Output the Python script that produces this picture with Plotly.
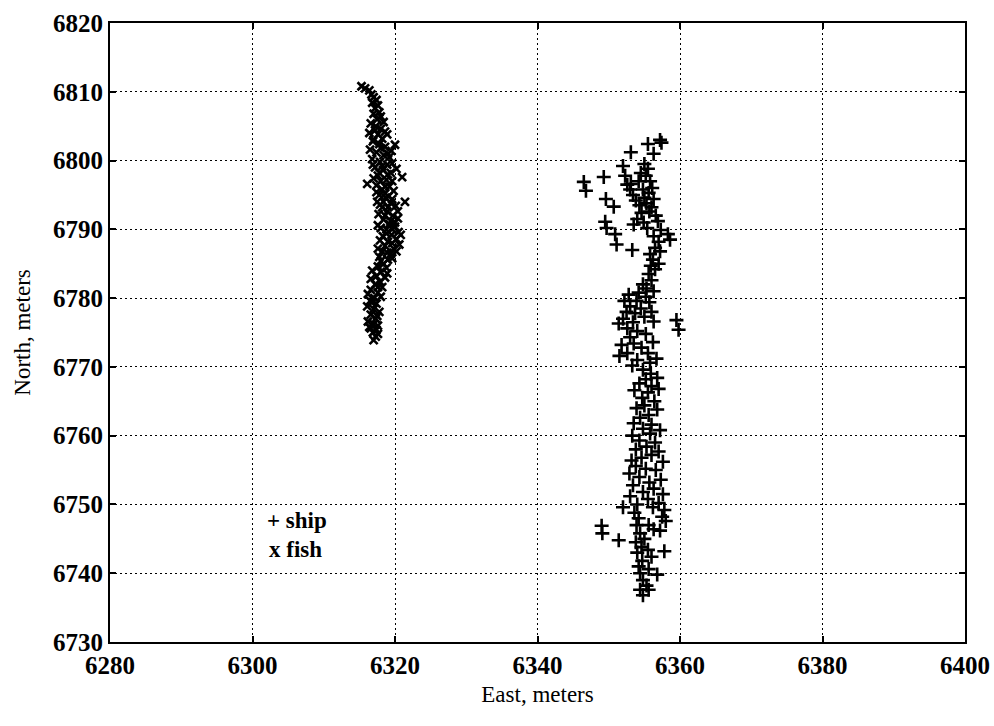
import plotly.graph_objects as go

# Ship positions (East, North), meters
ship_east = [
    6357.2, 6357.4, 6355.5, 6356.3, 6353.1,
    6346.5, 6346.8, 6349.3, 6349.6, 6350.7, 6349.5, 6349.7, 6350.9, 6351.1, 6353.3,
    6352.0, 6352.3, 6352.6, 6353.0, 6353.4, 6353.8, 6354.3, 6354.6, 6354.0, 6353.5,
    6355.0, 6355.5, 6355.2, 6355.8, 6356.1, 6355.6, 6356.3, 6356.0, 6356.6, 6356.9,
    6354.5, 6354.2, 6353.1, 6354.8, 6355.0, 6355.3, 6355.7, 6354.9, 6355.4, 6357.3,
    6356.3, 6357.0, 6356.5, 6355.8, 6357.2, 6358.3, 6358.6, 6356.2, 6355.9, 6357.0,
    6356.5, 6355.6, 6356.0, 6354.8, 6355.3, 6354.2, 6356.3, 6355.2, 6353.9, 6355.7,
    6352.8, 6352.2, 6353.0, 6352.5, 6353.7, 6352.0, 6351.4, 6352.6, 6353.4, 6354.5,
    6355.0, 6356.0, 6356.3, 6359.5, 6359.8, 6354.0, 6355.2, 6353.0, 6351.8, 6352.6,
    6351.5, 6353.5, 6354.6, 6356.2, 6355.5, 6354.0, 6355.8, 6356.7, 6353.3, 6354.8,
    6355.9, 6356.8, 6355.2, 6354.3, 6356.0, 6357.0, 6355.5, 6353.6, 6354.7, 6356.4,
    6355.0, 6353.9, 6356.8, 6355.6, 6354.4, 6353.5, 6356.0, 6354.8, 6355.8, 6357.2,
    6353.3, 6354.3, 6356.5, 6355.3, 6353.8, 6357.0, 6356.0, 6354.6, 6353.2, 6357.6,
    6353.8, 6355.2, 6356.6, 6352.9, 6354.3, 6357.3, 6355.7, 6353.4, 6356.3, 6354.8,
    6357.6, 6353.0, 6355.5, 6357.0, 6354.0, 6356.2, 6357.8, 6352.0, 6357.5, 6358.0,
    6349.0, 6349.1, 6351.4, 6353.6, 6354.2, 6353.9, 6355.6, 6356.3, 6357.2, 6354.4,
    6355.0, 6353.8, 6354.6, 6355.5, 6357.8, 6354.0, 6356.0, 6354.7, 6354.2, 6355.6,
    6354.4, 6356.8, 6354.8, 6355.3, 6354.4, 6354.8, 6355.6,
]
ship_north = [
    6803.0, 6802.6, 6802.4, 6801.0, 6801.2,
    6796.9, 6795.6, 6797.6, 6794.4, 6793.3, 6791.1, 6790.2, 6789.3, 6787.8, 6787.0,
    6799.2, 6797.8, 6796.5, 6795.8, 6795.0, 6794.2, 6793.5, 6792.4, 6791.5, 6790.7,
    6799.5, 6798.8, 6797.8, 6797.0, 6796.0, 6795.3, 6794.4, 6793.2, 6792.0, 6791.2,
    6798.2, 6797.0, 6796.6, 6795.8, 6794.6, 6793.8, 6792.6, 6791.0, 6790.2, 6789.9,
    6789.0, 6788.2, 6787.3, 6786.4, 6786.8, 6789.3, 6788.5, 6785.6, 6784.7, 6785.0,
    6784.2, 6783.5, 6782.6, 6782.0, 6781.4, 6780.8, 6781.0, 6780.2, 6779.6, 6779.4,
    6780.5, 6779.6, 6778.8, 6778.0, 6777.8, 6777.0, 6776.3, 6775.6, 6776.5, 6778.5,
    6777.3, 6778.0, 6776.6, 6776.8, 6775.4, 6775.2, 6774.8, 6774.3, 6773.2, 6772.0,
    6771.6, 6773.4, 6772.8, 6773.6, 6772.0, 6771.0, 6770.6, 6771.2, 6770.2, 6769.6,
    6769.0, 6768.4, 6768.2, 6767.6, 6767.2, 6766.8, 6766.3, 6766.6, 6765.5, 6765.0,
    6764.4, 6764.0, 6763.8, 6763.0, 6762.6, 6761.8, 6761.6, 6761.0, 6760.3, 6760.8,
    6760.0, 6759.3, 6759.0, 6758.4, 6758.0, 6757.7, 6757.2, 6756.8, 6756.4, 6756.2,
    6755.6, 6755.2, 6755.0, 6754.5, 6754.0, 6753.6, 6753.2, 6752.8, 6752.3, 6751.8,
    6751.5, 6751.2, 6750.8, 6750.2, 6750.0, 6749.6, 6749.2, 6749.6, 6748.2, 6747.6,
    6746.9, 6745.8, 6744.8, 6748.8, 6748.0, 6747.0, 6747.0, 6746.4, 6746.2, 6745.8,
    6745.0, 6744.5, 6743.8, 6743.4, 6743.2, 6743.0, 6742.4, 6741.8, 6741.0, 6740.6,
    6740.0, 6739.8, 6739.0, 6738.2, 6737.6, 6736.8, 6737.6,
]

# Fish positions (East, North), meters
fish_east = [
    6315.3, 6315.8, 6316.4, 6316.7, 6317.0, 6316.8, 6317.2, 6317.0, 6317.5, 6316.6,
    6317.3, 6318.0, 6316.4, 6317.6, 6318.2, 6316.9, 6317.8, 6318.6, 6320.0, 6316.5,
    6317.4, 6318.4, 6319.2, 6316.8, 6317.9, 6318.9, 6319.6, 6317.2, 6318.3, 6319.4,
    6320.2, 6321.0, 6316.1, 6317.6, 6318.8, 6317.4, 6318.2, 6319.2, 6319.8, 6317.8,
    6318.7, 6321.4, 6317.5, 6319.4, 6318.2, 6320.1, 6318.9, 6317.7, 6319.7, 6320.4,
    6318.4, 6319.2, 6320.0, 6317.6, 6318.8, 6320.5, 6319.5, 6318.3, 6320.2, 6319.0,
    6320.6, 6318.6, 6319.8, 6318.2, 6319.4, 6317.8, 6319.0, 6318.4, 6317.6, 6318.8,
    6318.0, 6317.4, 6318.6, 6317.9, 6317.2, 6318.2, 6316.6, 6317.6, 6316.2, 6317.1,
    6318.0, 6316.5, 6317.4, 6316.1, 6317.0, 6317.8, 6316.6, 6317.3, 6316.2, 6317.0,
    6316.6, 6317.4, 6316.9, 6317.3, 6317.0, 6317.6,
    6317.4, 6317.8, 6318.4, 6318.9, 6319.5, 6317.0, 6318.6, 6317.9, 6319.1, 6320.0,
    6317.9, 6317.6, 6316.8, 6316.6,
    6317.6, 6318.0, 6317.2, 6318.6, 6317.0, 6318.0, 6319.0, 6316.9, 6318.2, 6319.0,
    6317.8, 6318.0, 6319.6, 6318.6, 6317.4, 6319.6, 6318.4, 6319.0, 6320.4, 6318.6,
    6319.4, 6318.0, 6319.6, 6320.8, 6318.8, 6319.6, 6320.2, 6318.9, 6319.6, 6318.0,
    6318.9, 6317.6, 6316.8, 6317.5, 6316.4, 6317.6,
]
fish_north = [
    6810.8, 6810.5, 6810.2, 6809.6, 6809.2, 6808.4, 6807.6, 6806.8, 6806.0, 6805.4,
    6805.0, 6804.6, 6804.0, 6803.8, 6803.2, 6802.8, 6802.4, 6802.0, 6802.3, 6801.6,
    6801.2, 6800.8, 6800.5, 6800.2, 6799.8, 6799.4, 6799.6, 6799.0, 6798.6, 6798.2,
    6798.8, 6797.6, 6796.6, 6797.8, 6797.2, 6796.4, 6795.8, 6796.2, 6795.6, 6795.0,
    6794.6, 6794.0, 6794.0, 6793.8, 6793.2, 6793.4, 6792.6, 6792.2, 6792.0, 6791.6,
    6791.4, 6790.8, 6790.4, 6790.6, 6790.0, 6789.6, 6789.2, 6789.0, 6788.6, 6788.2,
    6787.8, 6787.6, 6787.2, 6786.8, 6786.4, 6786.0, 6785.6, 6785.0, 6784.6, 6784.4,
    6783.8, 6783.2, 6783.0, 6782.4, 6782.0, 6781.6, 6781.2, 6780.8, 6780.6, 6780.0,
    6780.2, 6779.6, 6779.2, 6778.8, 6778.4, 6778.0, 6777.6, 6777.0, 6776.6, 6776.2,
    6775.6, 6775.4, 6775.0, 6774.4, 6773.9, 6774.8,
    6808.8, 6807.0, 6805.6, 6803.8, 6801.4, 6797.4, 6796.2, 6793.6, 6794.8, 6791.0,
    6788.4, 6787.2, 6784.0, 6782.8,
    6808.0, 6806.4, 6804.4, 6804.2, 6803.0, 6801.8, 6801.0, 6799.4, 6799.2, 6798.0,
    6798.2, 6797.0, 6797.0, 6795.2, 6795.4, 6794.4, 6794.0, 6793.2, 6792.6, 6792.0,
    6791.2, 6790.2, 6790.0, 6789.2, 6789.4, 6788.0, 6786.8, 6786.6, 6785.8, 6785.4,
    6783.6, 6781.6, 6779.4, 6777.4, 6775.8, 6776.0,
]

x_ticks = [6280, 6300, 6320, 6340, 6360, 6380, 6400]
y_ticks = [6730, 6740, 6750, 6760, 6770, 6780, 6790, 6800, 6810, 6820]

SERIF = "Liberation Serif, Times New Roman, serif"

fig = go.Figure()
fig.add_trace(go.Scatter(
    x=ship_east, y=ship_north, mode="markers", name="ship",
    marker=dict(symbol="cross-thin", size=10, color="black",
                line=dict(color="black", width=2.6)),
))
fig.add_trace(go.Scatter(
    x=fish_east, y=fish_north, mode="markers", name="fish",
    marker=dict(symbol="x-thin", size=8, color="black",
                line=dict(color="black", width=2.6)),
))

axis_common = dict(
    showline=True, linecolor="black", linewidth=2, mirror="ticks",
    ticks="inside", ticklen=6, tickcolor="black", tickwidth=1.5,
    showgrid=True, gridcolor="black", gridwidth=1, griddash="2px,3px",
    zeroline=False, automargin=False,
    tickfont=dict(family=SERIF, size=25, color="black", weight="bold"),
)

fig.update_xaxes(
    range=[6280, 6400], tickvals=x_ticks, ticktext=[str(v) for v in x_ticks],
    title=dict(text="East, meters", standoff=8,
               font=dict(family=SERIF, size=23, color="black")),
    **axis_common,
)
fig.update_yaxes(
    range=[6730, 6820], tickvals=y_ticks, ticktext=[str(v) for v in y_ticks],
    title=dict(text="North, meters", standoff=16,
               font=dict(family=SERIF, size=23, color="black")),
    **axis_common,
)

# Marker key written inside the plot area
fig.add_annotation(x=6301.8, y=6747.6, xref="x", yref="y", text="+ ship",
                   showarrow=False, xanchor="left", yanchor="middle",
                   font=dict(family=SERIF, size=23, color="black", weight="bold"))
fig.add_annotation(x=6302.1, y=6743.4, xref="x", yref="y", text="x fish",
                   showarrow=False, xanchor="left", yanchor="middle",
                   font=dict(family=SERIF, size=23, color="black", weight="bold"))

fig.update_layout(
    width=994, height=726,
    margin=dict(l=110, r=29, t=23, b=84),
    paper_bgcolor="white", plot_bgcolor="white",
    showlegend=False,
)

fig.write_html("out.html")
